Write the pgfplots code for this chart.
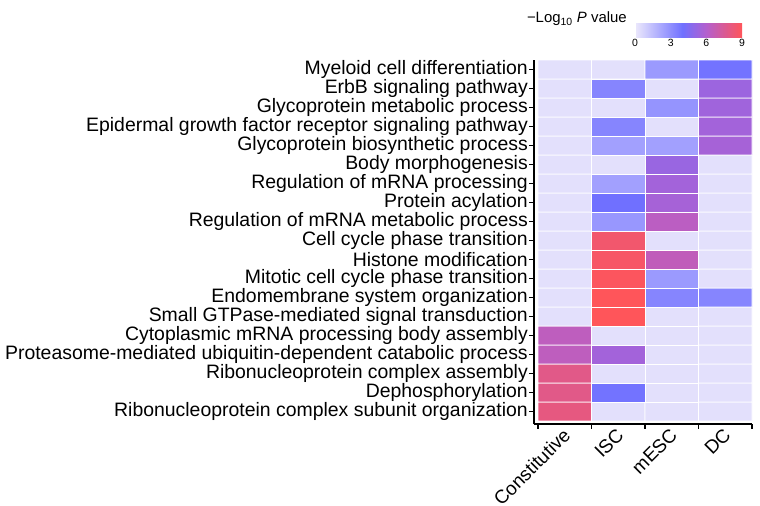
\documentclass[border=0pt]{standalone}
\usepackage{fontspec}
\setmainfont{Liberation Sans}
\usepackage{pgfplots}
\pgfplotsset{compat=1.18}
\pgfplotstableread{
x y c
0 0 8.0
1 0 0.3
2 0 0.3
3 0 0.3
0 1 7.8
1 1 3.9
2 1 0.3
3 1 0.3
0 2 7.8
1 2 0.3
2 2 0.3
3 2 0.3
0 3 6.4
1 3 5.5
2 3 0.3
3 3 0.3
0 4 6.4
1 4 0.3
2 4 0.3
3 4 0.3
0 5 0.3
1 5 9.0
2 5 0.3
3 5 0.3
0 6 0.3
1 6 9.0
2 6 3.3
3 6 3.3
0 7 0.3
1 7 8.9
2 7 2.6
3 7 0.3
0 8 0.3
1 8 8.7
2 8 6.5
3 8 0.3
0 9 0.3
1 9 8.5
2 9 0.3
3 9 0.3
0 10 0.3
1 10 2.7
2 10 6.3
3 10 0.3
0 11 0.3
1 11 4.0
2 11 5.6
3 11 0.3
0 12 0.3
1 12 2.4
2 12 5.5
3 12 0.3
0 13 0.3
1 13 0.3
2 13 5.2
3 13 0.3
0 14 0.3
1 14 2.4
2 14 2.4
3 14 5.6
0 15 0.3
1 15 3.3
2 15 0.3
3 15 5.5
0 16 0.3
1 16 0.3
2 16 2.8
3 16 5.4
0 17 0.3
1 17 3.3
2 17 0.3
3 17 5.3
0 18 0.3
1 18 0.3
2 18 2.6
3 18 3.9
}\hmdata
\begin{document}
\begin{tikzpicture}
\begin{axis}[
  name=hm,
  at={(534bp,-424bp)}, anchor=south west,
  scale only axis, width=218bp, height=364bp,
  xmin=-0.575, xmax=3.5, ymin=-0.66, ymax=18.5,
  axis lines*=left,
  axis line style={line width=1.2bp, black},
  tick align=outside,
  tick style={line width=1.2bp, black},
  major tick length=4.5bp,
  xtick={-0.5,0.5,1.5,2.5,3.5}, xticklabels={},
  extra x ticks={0,1,2,3},
  extra x tick labels={Constitutive,ISC,mESC,DC},
  extra x tick style={major tick length=0pt},
  xticklabel style={rotate=45, anchor=north east, inner sep=0pt, xshift=-4bp, yshift=0bp, font=\fontsize{19}{20}\selectfont},
  ytick={0,...,18},
  yticklabels={Ribonucleoprotein complex subunit organization,
    Dephosphorylation,
    Ribonucleoprotein complex assembly,
    Proteasome-mediated ubiquitin-dependent catabolic process,
    Cytoplasmic mRNA processing body assembly,
    Small GTPase-mediated signal transduction,
    Endomembrane system organization,
    Mitotic cell cycle phase transition,
    Histone modification,
    Cell cycle phase transition,
    Regulation of mRNA metabolic process,
    Protein acylation,
    Regulation of mRNA processing,
    Body morphogenesis,
    Glycoprotein biosynthetic process,
    Epidermal growth factor receptor signaling pathway,
    Glycoprotein metabolic process,
    ErbB signaling pathway,
    Myeloid cell differentiation},
  yticklabel style={font=\fontsize{19.5}{20}\selectfont, inner sep=0pt, xshift=-1.5bp},
  colormap={hm}{rgb255(0cm)=(236,233,252); rgb255(4cm)=(112,112,255); rgb255(6cm)=(180,95,205); rgb255(9cm)=(255,85,90)},
  point meta min=0, point meta max=9,
  colorbar horizontal,
  colorbar style={
    at={(parent axis.north east)}, anchor=south east,
    xshift=-10bp, yshift=31bp,
    scale only axis, width=107bp, height=22bp,
    xtick={0,3,6,9},
    xticklabel style={font=\fontsize{10.5}{11}\selectfont, inner sep=1.5bp},
    /pgf/number format/assume math mode=true,
    major tick length=0pt,
    axis line style={draw=none},
  },
]
\addplot[matrix plot*, mesh/cols=4, point meta=explicit, draw=white, line width=0.8bp] table[x=x, y=y, meta=c] {\hmdata};
\end{axis}
\node[anchor=east, inner sep=0pt, font=\fontsize{15}{16}\selectfont] at (627bp,-19bp) {−Log\textsubscript{10} \textit{P} value};
\pgfresetboundingbox
\useasboundingbox (0bp,0bp) rectangle (760bp,-506bp);
\end{tikzpicture}
\end{document}
